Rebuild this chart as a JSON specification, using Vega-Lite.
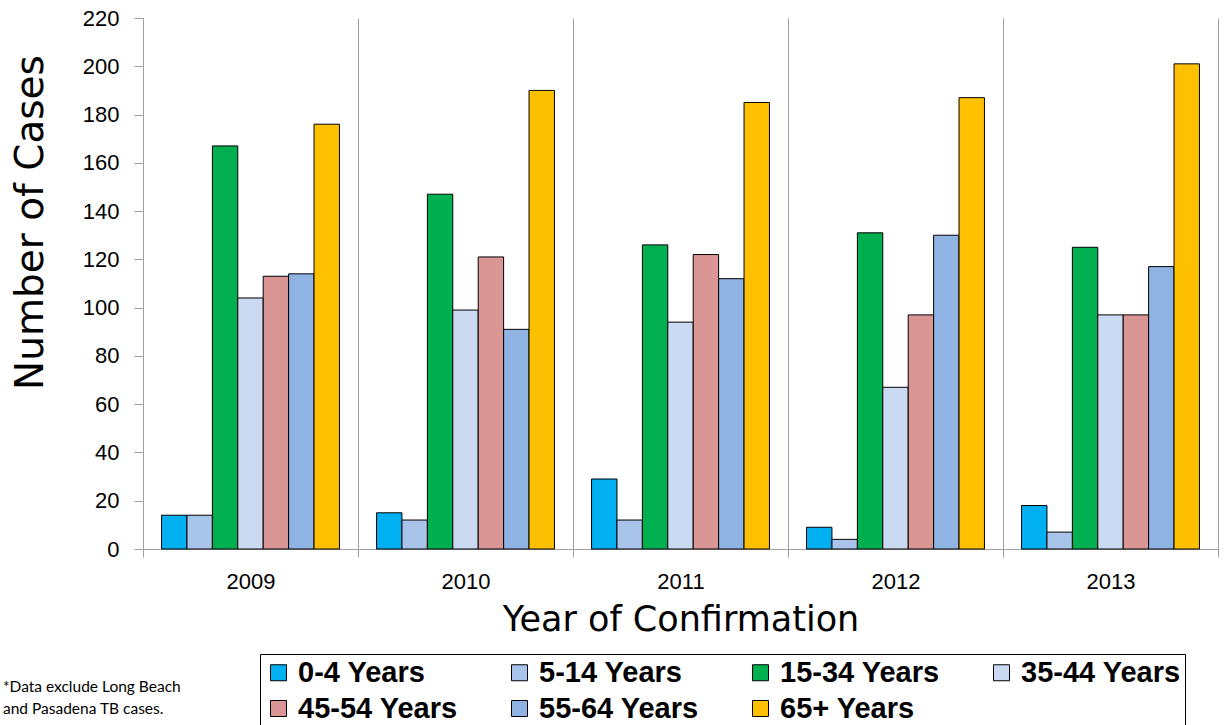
{
  "$schema": "https://vega.github.io/schema/vega-lite/v6.json",
  "width": 1075,
  "height": 531,
  "autosize": {"type": "none"},
  "padding": {"left": 143, "top": 18, "right": 7, "bottom": 176},
  "background": "white",
  "config": {"view": {"stroke": null}, "font": "Liberation Sans"},
  "title": {
    "text": ["*Data exclude Long Beach", "and Pasadena TB cases."],
    "orient": "bottom",
    "anchor": "start",
    "align": "left",
    "dx": -8,
    "dy": -62,
    "offset": 13,
    "font": "Lato",
    "fontSize": 15.5,
    "fontWeight": "normal",
    "lineHeight": 22,
    "color": "black"
  },
  "data": {
    "values": [
      {"year": "2009", "age": "0-4 Years", "cases": 14},
      {"year": "2009", "age": "5-14 Years", "cases": 14},
      {"year": "2009", "age": "15-34 Years", "cases": 167},
      {"year": "2009", "age": "35-44 Years", "cases": 104},
      {"year": "2009", "age": "45-54 Years", "cases": 113},
      {"year": "2009", "age": "55-64 Years", "cases": 114},
      {"year": "2009", "age": "65+ Years", "cases": 176},
      {"year": "2010", "age": "0-4 Years", "cases": 15},
      {"year": "2010", "age": "5-14 Years", "cases": 12},
      {"year": "2010", "age": "15-34 Years", "cases": 147},
      {"year": "2010", "age": "35-44 Years", "cases": 99},
      {"year": "2010", "age": "45-54 Years", "cases": 121},
      {"year": "2010", "age": "55-64 Years", "cases": 91},
      {"year": "2010", "age": "65+ Years", "cases": 190},
      {"year": "2011", "age": "0-4 Years", "cases": 29},
      {"year": "2011", "age": "5-14 Years", "cases": 12},
      {"year": "2011", "age": "15-34 Years", "cases": 126},
      {"year": "2011", "age": "35-44 Years", "cases": 94},
      {"year": "2011", "age": "45-54 Years", "cases": 122},
      {"year": "2011", "age": "55-64 Years", "cases": 112},
      {"year": "2011", "age": "65+ Years", "cases": 185},
      {"year": "2012", "age": "0-4 Years", "cases": 9},
      {"year": "2012", "age": "5-14 Years", "cases": 4},
      {"year": "2012", "age": "15-34 Years", "cases": 131},
      {"year": "2012", "age": "35-44 Years", "cases": 67},
      {"year": "2012", "age": "45-54 Years", "cases": 97},
      {"year": "2012", "age": "55-64 Years", "cases": 130},
      {"year": "2012", "age": "65+ Years", "cases": 187},
      {"year": "2013", "age": "0-4 Years", "cases": 18},
      {"year": "2013", "age": "5-14 Years", "cases": 7},
      {"year": "2013", "age": "15-34 Years", "cases": 125},
      {"year": "2013", "age": "35-44 Years", "cases": 97},
      {"year": "2013", "age": "45-54 Years", "cases": 97},
      {"year": "2013", "age": "55-64 Years", "cases": 117},
      {"year": "2013", "age": "65+ Years", "cases": 201}
    ]
  },
  "mark": {"type": "bar", "stroke": "black", "strokeWidth": 1},
  "encoding": {
    "x": {
      "field": "year",
      "type": "nominal",
      "scale": {"paddingInner": 0, "paddingOuter": 0},
      "axis": {
        "title": "Year of Confirmation",
        "titleFont": "DejaVu Sans",
        "titleFontSize": 35,
        "titleFontWeight": "normal",
        "titleColor": "black",
        "titlePadding": 10,
        "labelAngle": 0,
        "labelFontSize": 22,
        "labelColor": "black",
        "labelPadding": 14,
        "tickBand": "extent",
        "tickSize": 8,
        "tickColor": "#a0a0a0",
        "domainColor": "#a0a0a0",
        "grid": true,
        "gridColor": "#a0a0a0",
        "gridOpacity": 1
      }
    },
    "xOffset": {
      "field": "age",
      "type": "nominal",
      "sort": ["0-4 Years", "5-14 Years", "15-34 Years", "35-44 Years", "45-54 Years", "55-64 Years", "65+ Years"],
      "scale": {"paddingInner": 0, "paddingOuter": 0.73}
    },
    "y": {
      "field": "cases",
      "type": "quantitative",
      "scale": {"domain": [0, 220], "nice": false},
      "axis": {
        "values": [0, 20, 40, 60, 80, 100, 120, 140, 160, 180, 200, 220],
        "grid": false,
        "title": "Number of Cases",
        "titleFont": "DejaVu Sans",
        "titleFontSize": 39,
        "titleFontWeight": "normal",
        "titleColor": "black",
        "titleAngle": -90,
        "titleX": -113,
        "titleY": 204,
        "titleAlign": "center",
        "titleBaseline": "middle",
        "labelFontSize": 22,
        "labelColor": "black",
        "labelPadding": 15,
        "tickSize": 9,
        "tickColor": "#a0a0a0",
        "domainColor": "#a0a0a0"
      }
    },
    "fill": {
      "field": "age",
      "type": "nominal",
      "scale": {
        "domain": ["0-4 Years", "5-14 Years", "15-34 Years", "35-44 Years", "45-54 Years", "55-64 Years", "65+ Years"],
        "range": ["#00b0f0", "#a9c4ea", "#00b050", "#c9daf2", "#d99694", "#8fb3e3", "#ffc000"]
      },
      "legend": {
        "title": null,
        "orient": "none",
        "legendX": 117,
        "legendY": 636,
        "direction": "horizontal",
        "columns": 4,
        "gridAlign": "all",
        "columnPadding": 47,
        "rowPadding": 6,
        "padding": 4,
        "strokeColor": "black",
        "symbolType": "square",
        "symbolSize": 256,
        "symbolStrokeColor": "black",
        "symbolStrokeWidth": 1,
        "symbolOpacity": 1,
        "labelFontSize": 29,
        "labelFontWeight": "bold",
        "labelColor": "black",
        "labelLimit": 300,
        "labelOffset": 5
      }
    }
  }
}
